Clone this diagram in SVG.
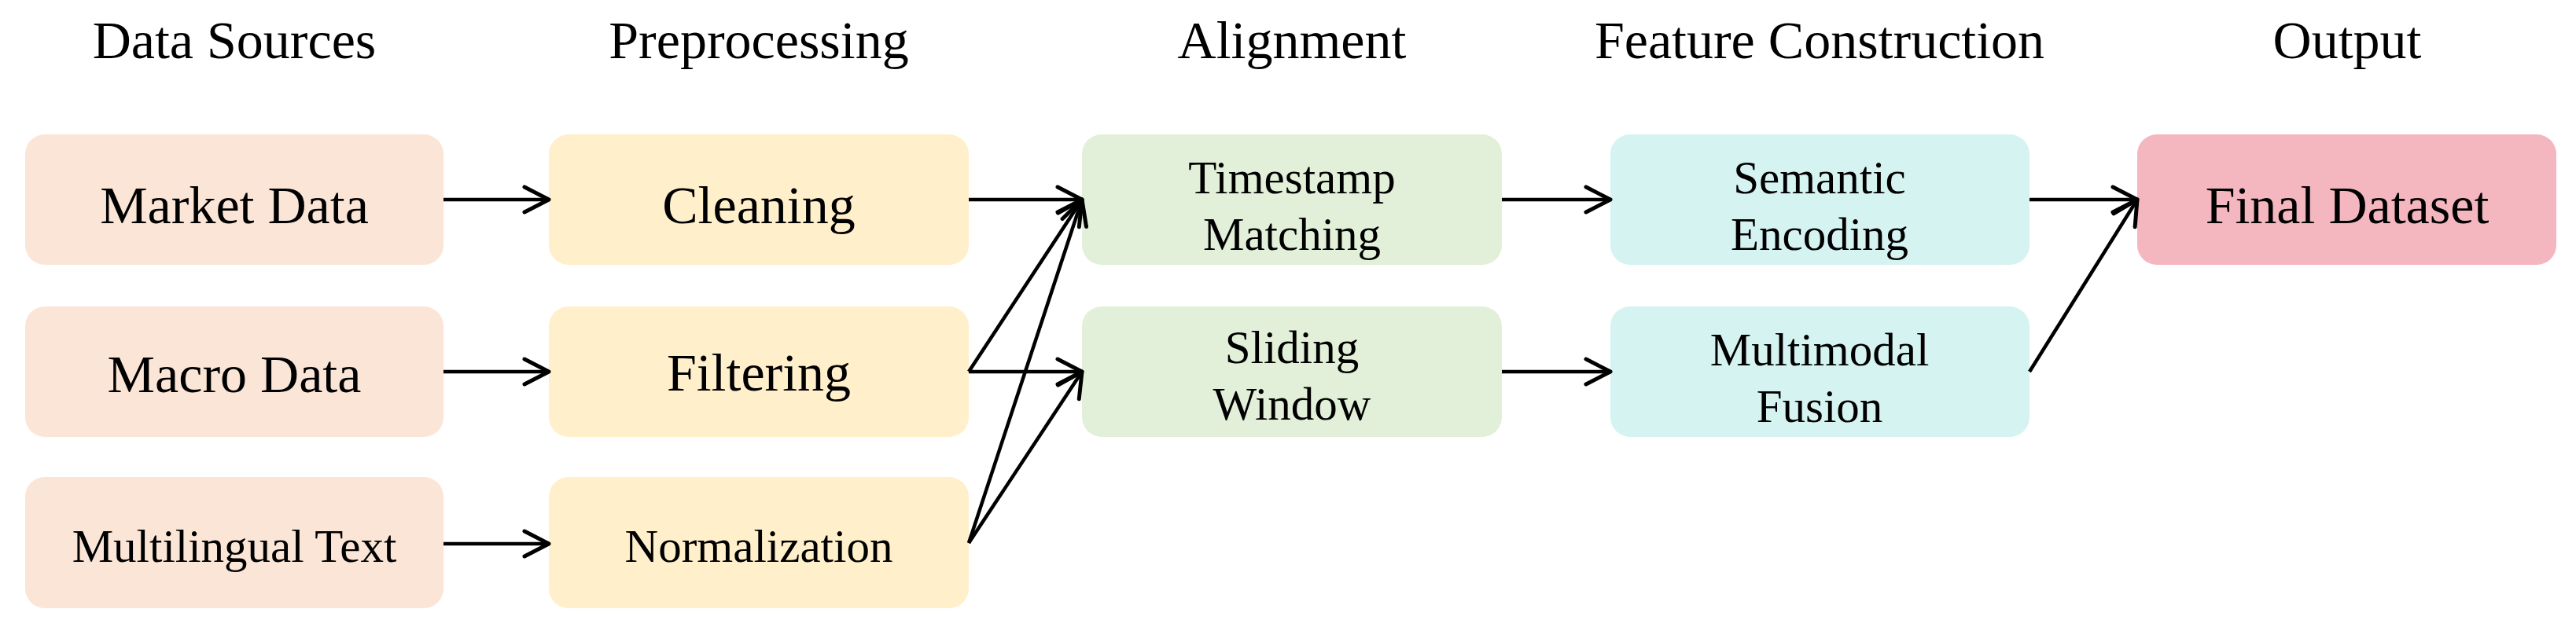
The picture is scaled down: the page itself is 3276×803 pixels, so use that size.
<svg xmlns="http://www.w3.org/2000/svg" width="3276" height="803" viewBox="0 0 3276 803">
<defs>
<style>
text { font-family: "Liberation Serif", "Times New Roman", serif; fill: #000; text-anchor: middle; }
.hdr { font-size: 68px; }
.big { font-size: 68px; }
.sm { font-size: 59px; }
.src rect { fill: #FBE5D6; }
.pre rect { fill: #FFF0CB; }
.aln rect { fill: #E2F0D9; }
.fea rect { fill: #D5F3F1; }
.out rect { fill: #F4B6BF; }
.conn line { stroke: #000; stroke-width: 4.5; marker-end: url(#arr); }
</style>
<marker id="arr" markerUnits="userSpaceOnUse" viewBox="-36 -20 40 40" refX="0" refY="0" markerWidth="40" markerHeight="40" orient="auto" overflow="visible">
<path d="M-31,-16 L0,0 L-31,16" fill="none" stroke="#000" stroke-width="5" stroke-linecap="round" stroke-linejoin="round"/>
</marker>
</defs>
<rect width="3276" height="803" fill="#fff"/>
<g id="headers">
<text class="hdr" x="298" y="74">Data Sources</text>
<text class="hdr" x="965" y="74">Preprocessing</text>
<text class="hdr" x="1643" y="74">Alignment</text>
<text class="hdr" x="2314" y="74">Feature Construction</text>
<text class="hdr" x="2985" y="74">Output</text>
</g>
<g id="market-data" class="src"><rect x="32" y="171" width="532" height="166" rx="25"/><text class="big" x="298" y="284">Market Data</text></g>
<g id="macro-data" class="src"><rect x="32" y="390" width="532" height="166" rx="25"/><text class="big" x="298" y="499">Macro Data</text></g>
<g id="multilingual-text" class="src"><rect x="32" y="607" width="532" height="167" rx="25"/><text class="sm" x="298" y="715">Multilingual Text</text></g>
<g id="cleaning" class="pre"><rect x="698" y="171" width="534" height="166" rx="25"/><text class="big" x="965" y="284">Cleaning</text></g>
<g id="filtering" class="pre"><rect x="698" y="390" width="534" height="166" rx="25"/><text class="big" x="965" y="497">Filtering</text></g>
<g id="normalization" class="pre"><rect x="698" y="607" width="534" height="167" rx="25"/><text class="sm" x="965" y="715">Normalization</text></g>
<g id="timestamp-matching" class="aln"><rect x="1376" y="171" width="534" height="166" rx="25"/><text class="sm" x="1643" y="246">Timestamp</text><text class="sm" x="1643" y="318">Matching</text></g>
<g id="sliding-window" class="aln"><rect x="1376" y="390" width="534" height="166" rx="25"/><text class="sm" x="1643" y="462">Sliding</text><text class="sm" x="1643" y="534">Window</text></g>
<g id="semantic-encoding" class="fea"><rect x="2048" y="171" width="533" height="166" rx="25"/><text class="sm" x="2314" y="246">Semantic</text><text class="sm" x="2314" y="318">Encoding</text></g>
<g id="multimodal-fusion" class="fea"><rect x="2048" y="390" width="533" height="166" rx="25"/><text class="sm" x="2314" y="465">Multimodal</text><text class="sm" x="2314" y="537">Fusion</text></g>
<g id="final-dataset" class="out"><rect x="2718" y="171" width="533" height="166" rx="25"/><text class="big" x="2985" y="284">Final Dataset</text></g>
<g id="connectors" class="conn">
<line x1="564" y1="254" x2="698" y2="254"/>
<line x1="564" y1="473" x2="698" y2="473"/>
<line x1="564" y1="692" x2="698" y2="692"/>
<line x1="1232" y1="254" x2="1376" y2="254"/>
<line x1="1232" y1="473" x2="1376" y2="254"/>
<line x1="1232" y1="473" x2="1376" y2="473"/>
<line x1="1232" y1="691" x2="1376" y2="254"/>
<line x1="1232" y1="691" x2="1376" y2="473"/>
<line x1="1910" y1="254" x2="2048" y2="254"/>
<line x1="1910" y1="473" x2="2048" y2="473"/>
<line x1="2581" y1="254" x2="2718" y2="254"/>
<line x1="2581" y1="473" x2="2718" y2="254"/>
</g>
</svg>
